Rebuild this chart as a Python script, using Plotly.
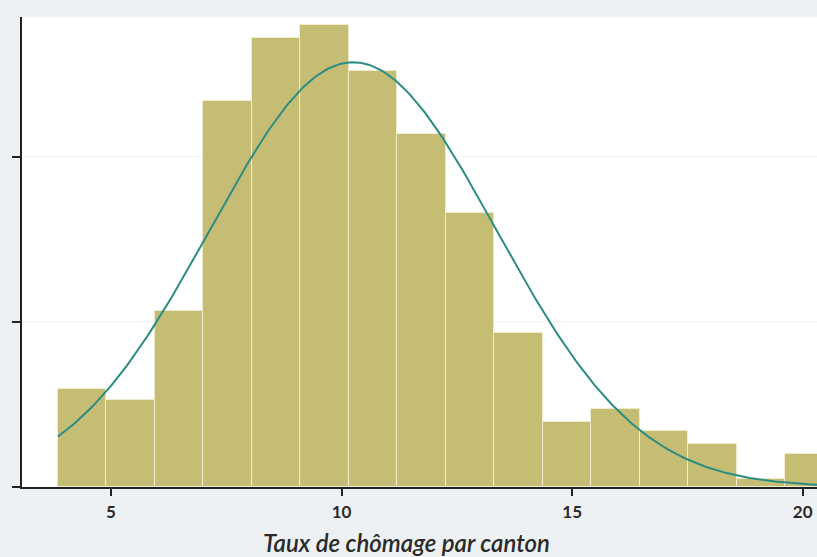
import numpy as np
import plotly.graph_objects as go

# Histogram (density)
bin_start = 3.85
bin_width = 1.0514
densities = [0.0297, 0.0264, 0.0533, 0.117, 0.136, 0.140, 0.126, 0.107,
             0.083, 0.0467, 0.0197, 0.0236, 0.017, 0.013, 0.0024, 0.010]
# Fitted normal curve parameters
mu = 10.25
sigma = 3.10
x_ticks = [5, 10, 15, 20]
y_ticks = [0, 0.05, 0.1]
x_title = "Taux de chômage par canton"

centers = [bin_start + bin_width * (i + 0.5) for i in range(len(densities))]
xs = np.linspace(bin_start, 20.4, 300)
pdf = np.exp(-0.5 * ((xs - mu) / sigma) ** 2) / (sigma * np.sqrt(2 * np.pi))

fig = go.Figure()
fig.add_trace(go.Bar(x=centers, y=densities, width=bin_width,
                     marker=dict(color="#c6bd74", line=dict(color="#efeccd", width=1)),
                     hoverinfo="skip"))
fig.add_trace(go.Scatter(x=xs, y=pdf, mode="lines",
                         line=dict(color="#2b8c84", width=2), hoverinfo="skip"))

fig.update_layout(
    width=817, height=557,
    margin=dict(l=22, r=0, t=17, b=70),
    paper_bgcolor="#eef1f3", plot_bgcolor="#ffffff",
    showlegend=False, bargap=0,
    font=dict(family="Lato, Open Sans, sans-serif", color="#333333"),
    annotations=[dict(text=f"<i>{x_title}</i>", xref="paper", yref="paper",
                      x=0.4836, y=-0.119, xanchor="center", yanchor="middle",
                      showarrow=False,
                      font=dict(size=24, color="#2a2a2a", family="Lato", weight=600))],
)
fig.update_xaxes(range=[3.07, 20.31], tickvals=x_ticks, ticks="outside",
                 ticklen=7, tickwidth=2, tickcolor="#222222",
                 showline=True, linecolor="#222222", linewidth=2,
                 showgrid=False, zeroline=False, ticklabelstandoff=2,
                 tickfont=dict(size=17, color="#2a2a2a", family="Lato", weight="bold"))
fig.update_yaxes(range=[0, 0.1424], tickvals=y_ticks, ticktext=["", "", ""],
                 ticks="outside", ticklen=8, tickwidth=2, tickcolor="#222222",
                 showline=True, linecolor="#222222", linewidth=2,
                 showgrid=True, gridcolor="#eef2f4", gridwidth=1, zeroline=False)

fig.write_html("out.html", config={"displayModeBar": False},
               post_script="document.body.style.margin='0px';")
